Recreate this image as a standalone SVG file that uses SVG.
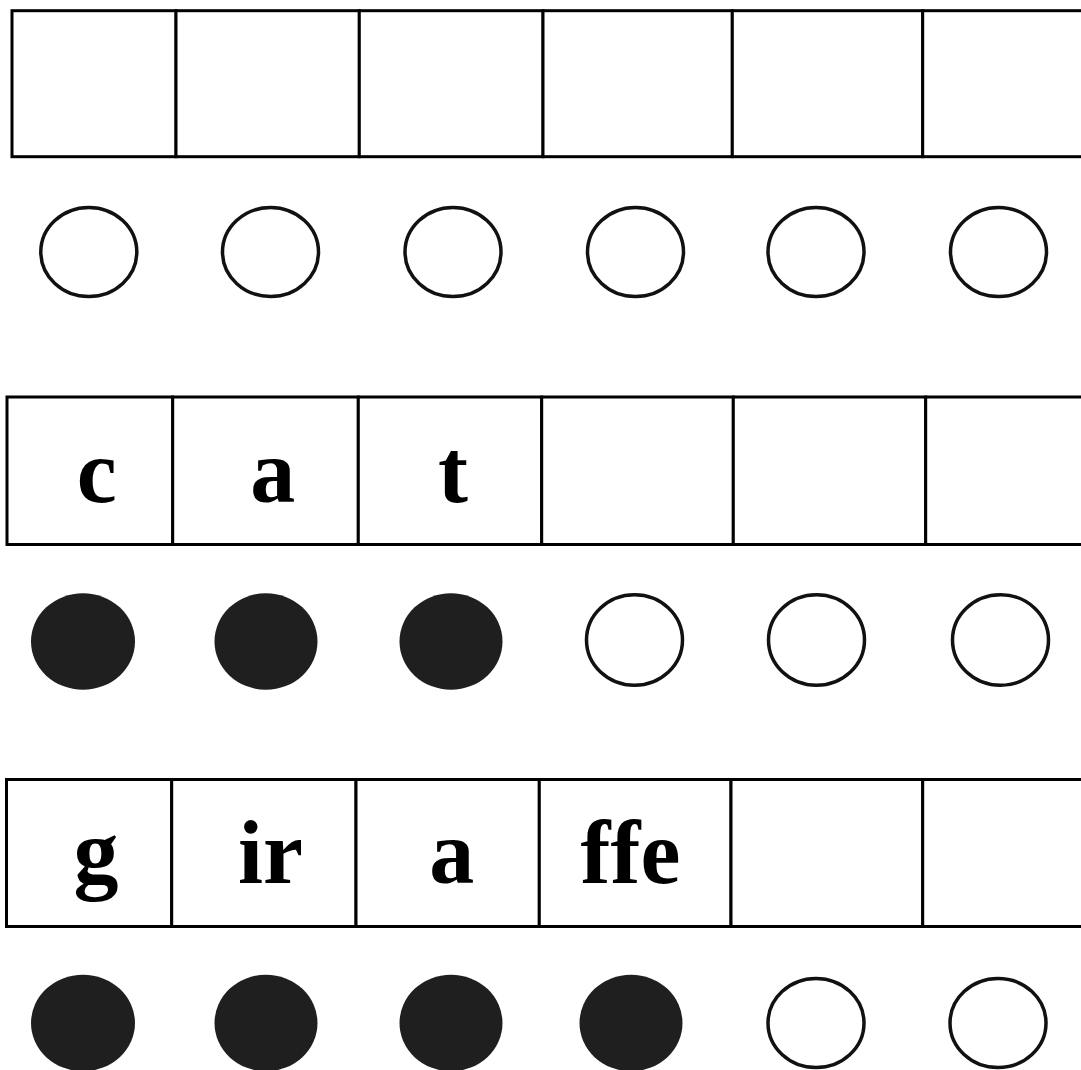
<svg xmlns="http://www.w3.org/2000/svg" width="1081" height="1070" viewBox="0 0 1081 1070">
<style>
.cell{fill:#fff;stroke:#000;stroke-width:3}
.open{fill:#fff;stroke:#111;stroke-width:3.5}
.full{fill:#1f1f1f;stroke:none}
.lbl{font-family:'Liberation Serif','Times New Roman',Times,'Nimbus Roman',serif;font-weight:700;font-size:90px;fill:#000;text-anchor:middle}
</style>
<rect width="1081" height="1070" fill="#fff"/>
<g id="row1">
<g id="r1c1"><rect class="cell" x="12" y="10.7" width="164" height="146"/></g>
<g id="r1c2"><rect class="cell" x="176" y="10.7" width="183.3" height="146"/></g>
<g id="r1c3"><rect class="cell" x="359.3" y="10.7" width="183.7" height="146"/></g>
<g id="r1c4"><rect class="cell" x="543" y="10.7" width="189.3" height="146"/></g>
<g id="r1c5"><rect class="cell" x="732.3" y="10.7" width="190.4" height="146"/></g>
<g id="r1c6"><rect class="cell" x="922.7" y="10.7" width="180" height="146"/></g>
</g>
<g id="row1dots">
<g id="r1d1"><ellipse class="open" cx="88.8" cy="252" rx="48" ry="44.5"/></g>
<g id="r1d2"><ellipse class="open" cx="270.5" cy="252" rx="48" ry="44.5"/></g>
<g id="r1d3"><ellipse class="open" cx="453" cy="252" rx="48" ry="44.5"/></g>
<g id="r1d4"><ellipse class="open" cx="635.5" cy="252" rx="48" ry="44.5"/></g>
<g id="r1d5"><ellipse class="open" cx="816" cy="252" rx="48" ry="44.5"/></g>
<g id="r1d6"><ellipse class="open" cx="998.5" cy="252" rx="48" ry="44.5"/></g>
</g>
<g id="row2">
<g id="r2c1"><rect class="cell" x="7" y="397" width="165.7" height="147.5"/><text class="lbl" font-family="Liberation Serif, serif" x="96.7" y="501.7">c</text></g>
<g id="r2c2"><rect class="cell" x="172.7" y="397" width="185.6" height="147.5"/><text class="lbl" font-family="Liberation Serif, serif" x="272.7" y="501.7">a</text></g>
<g id="r2c3"><rect class="cell" x="358.3" y="397" width="183.4" height="147.5"/><text class="lbl" font-family="Liberation Serif, serif" x="453" y="501.7">t</text></g>
<g id="r2c4"><rect class="cell" x="541.7" y="397" width="191.6" height="147.5"/></g>
<g id="r2c5"><rect class="cell" x="733.3" y="397" width="192.4" height="147.5"/></g>
<g id="r2c6"><rect class="cell" x="925.7" y="397" width="180" height="147.5"/></g>
</g>
<g id="row2dots">
<g id="r2d1"><ellipse class="full" cx="83" cy="641.5" rx="52" ry="48.3"/></g>
<g id="r2d2"><ellipse class="full" cx="266" cy="641.5" rx="51.5" ry="48.3"/></g>
<g id="r2d3"><ellipse class="full" cx="451" cy="641.5" rx="51.5" ry="48.3"/></g>
<g id="r2d4"><ellipse class="open" cx="634.5" cy="640" rx="48" ry="45.3"/></g>
<g id="r2d5"><ellipse class="open" cx="816.5" cy="640" rx="48" ry="45.3"/></g>
<g id="r2d6"><ellipse class="open" cx="1000.5" cy="640" rx="48" ry="45.3"/></g>
</g>
<g id="row3">
<g id="r3c1"><rect class="cell" x="6.5" y="779.5" width="165.2" height="147"/><text class="lbl" font-family="Liberation Serif, serif" x="96" y="883.3">g</text></g>
<g id="r3c2"><rect class="cell" x="171.7" y="779.5" width="184.3" height="147"/><text class="lbl" font-family="Liberation Serif, serif" x="270.5" y="883.3">ir</text></g>
<g id="r3c3"><rect class="cell" x="356" y="779.5" width="183.3" height="147"/><text class="lbl" font-family="Liberation Serif, serif" x="451.7" y="883.3">a</text></g>
<g id="r3c4"><rect class="cell" x="539.3" y="779.5" width="191.7" height="147"/><text class="lbl" font-family="Liberation Serif, serif" x="630.5" y="883.3">ffe</text></g>
<g id="r3c5"><rect class="cell" x="731" y="779.5" width="191.7" height="147"/></g>
<g id="r3c6"><rect class="cell" x="922.7" y="779.5" width="180" height="147"/></g>
</g>
<g id="row3dots">
<g id="r3d1"><ellipse class="full" cx="83" cy="1023" rx="52" ry="48.3"/></g>
<g id="r3d2"><ellipse class="full" cx="266" cy="1023" rx="51.5" ry="48.3"/></g>
<g id="r3d3"><ellipse class="full" cx="451" cy="1023" rx="51.5" ry="48.3"/></g>
<g id="r3d4"><ellipse class="full" cx="631" cy="1023" rx="51.5" ry="48.3"/></g>
<g id="r3d5"><ellipse class="open" cx="816" cy="1023" rx="48" ry="44.5"/></g>
<g id="r3d6"><ellipse class="open" cx="998" cy="1023" rx="48" ry="44.5"/></g>
</g>
<g id="connectors"/>
</svg>
